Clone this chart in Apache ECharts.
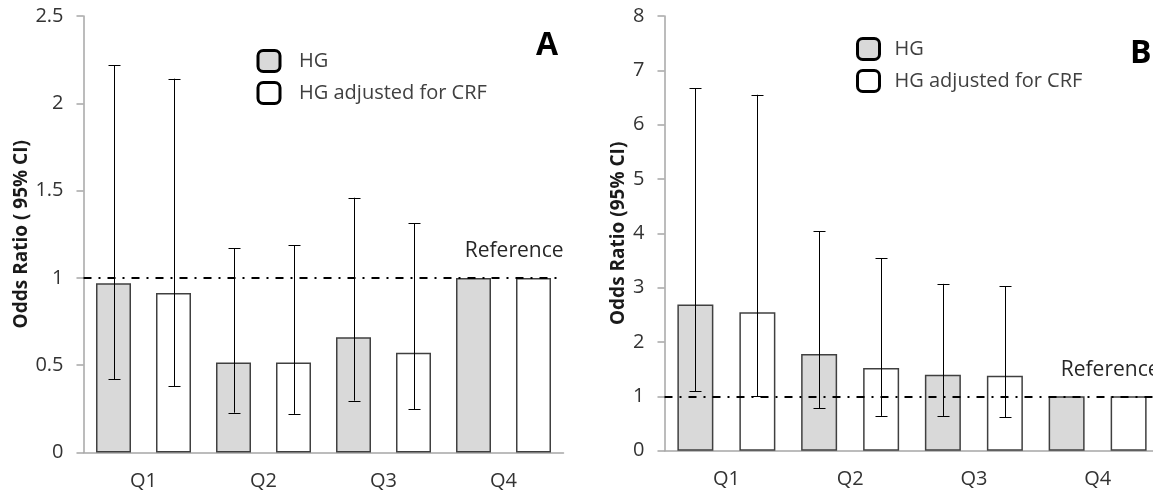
<!DOCTYPE html>
<html><head><meta charset="utf-8">
<script src="https://cdn.jsdelivr.net/npm/echarts@6/dist/echarts.min.js"></script>
<style>html,body{margin:0;padding:0;background:#fff}#c{width:1153px;height:494px}</style>
</head><body><div id="c"></div>
<script>
// ---- data ----
const categories = ['Q1', 'Q2', 'Q3', 'Q4'];
const seriesNames = ['HG', 'HG adjusted for CRF'];
// Panel A
const aHG      = [0.97, 0.515, 0.66, 1.0];
const aHGLow   = [0.42, 0.228, 0.297, null];
const aHGHigh  = [2.218, 1.169, 1.459, null];
const aAdj     = [0.913, 0.515, 0.572, 1.0];
const aAdjLow  = [0.381, 0.221, 0.248, null];
const aAdjHigh = [2.141, 1.186, 1.314, null];
// Panel B
const bHG      = [2.69, 1.78, 1.40, 1.0];
const bHGLow   = [1.09, 0.78, 0.64, null];
const bHGHigh  = [6.67, 4.04, 3.07, null];
const bAdj     = [2.55, 1.52, 1.38, 1.0];
const bAdjLow  = [1.0, 0.64, 0.62, null];
const bAdjHigh = [6.55, 3.54, 3.03, null];
// axis ranges: min, max, interval
const aAxis = [0, 2.5, 0.5];
const bAxis = [0, 8, 1];
const referenceValue = 1;
const panelLabels = ['A', 'B'];
const yTitles = ['Odds Ratio ( 95% CI)', 'Odds Ratio (95% CI)'];
const refText = 'Reference';

// ---- styles ----
const FONT = 'Open Sans';
const GRAY = '#d9d9d9';
const EDGE = '#404040';
const AXIS = '#a6a6a6';
const panels = [
  {grid: {left: 83.5, top: 16, width: 480, height: 436.5, outerBoundsMode: 'none'}, barW: 35, gap: 25, axis: aAxis,
   hg: aHG, hgLo: aHGLow, hgHi: aHGHigh, adj: aAdj, adjLo: aAdjLow, adjHi: aAdjHigh, nameGap: 42},
  {grid: {left: 664.5, top: 16, width: 495, height: 434.7, outerBoundsMode: 'none'}, barW: 36, gap: 26, axis: bAxis,
   hg: bHG, hgLo: bHGLow, hgHi: bHGHigh, adj: bAdj, adjLo: bAdjLow, adjHi: bAdjHigh, nameGap: 36}
];

function errSeries(idx, lows, highs, offset) {
  const data = [];
  categories.forEach((c, i) => { if (lows[i] != null) data.push([i, lows[i], highs[i]]); });
  return {
    type: 'custom', xAxisIndex: idx, yAxisIndex: idx, z: 6, silent: true,
    data: data,
    renderItem: function (params, api) {
      const i = api.value(0);
      const lo = api.coord([i, api.value(1)]);
      const hi = api.coord([i, api.value(2)]);
      const x = Math.round(lo[0] + offset) + 0.5;
      const cap = 6;
      const st = {stroke: '#000', lineWidth: 1};
      return {type: 'group', children: [
        {type: 'line', shape: {x1: x, y1: hi[1], x2: x, y2: lo[1]}, style: st},
        {type: 'line', shape: {x1: x - cap, y1: Math.round(hi[1]) + 0.5, x2: x + cap, y2: Math.round(hi[1]) + 0.5}, style: st},
        {type: 'line', shape: {x1: x - cap, y1: Math.round(lo[1]) + 0.5, x2: x + cap, y2: Math.round(lo[1]) + 0.5}, style: st}
      ]};
    }
  };
}

const grids = [], xAxes = [], yAxes = [], series = [];
panels.forEach((p, k) => {
  grids.push(p.grid);
  xAxes.push({
    type: 'category', gridIndex: k, data: categories,
    axisLine: {lineStyle: {color: AXIS, width: 1.5}},
    axisTick: {show: false},
    axisLabel: {fontFamily: FONT, fontSize: 20, color: '#333', margin: 19}
  });
  yAxes.push({
    type: 'value', gridIndex: k, min: p.axis[0], max: p.axis[1], interval: p.axis[2],
    splitLine: {show: false},
    axisLine: {show: true, lineStyle: {color: AXIS, width: 1.5}},
    axisTick: {show: true, length: 7, lineStyle: {color: AXIS, width: 1.5}},
    axisLabel: {fontFamily: FONT, fontSize: 20, color: '#333', margin: 20},
    name: yTitles[k], nameLocation: 'middle', nameGap: p.nameGap,
    nameTextStyle: {fontFamily: FONT, fontWeight: 'bold', fontSize: 19, color: '#1a1a1a'}
  });
  const gapPct = (p.gap / p.barW * 100) + '%';
  const off = (p.barW + p.gap) / 2;
  series.push({
    name: seriesNames[0], type: 'bar', xAxisIndex: k, yAxisIndex: k, data: p.hg,
    barWidth: p.barW, barGap: gapPct,
    itemStyle: {color: GRAY, borderColor: EDGE, borderWidth: 1.5},
    markLine: {
      symbol: 'none', silent: true, z: 7,
      lineStyle: {color: '#000', width: 2, type: [8, 7, 2, 7]},
      label: {show: true, position: 'insideEndTop', formatter: refText, fontFamily: FONT,
              fontSize: 21, color: '#262626', distance: [0, 16]},
      data: [{yAxis: referenceValue}]
    }
  });
  series.push({
    name: seriesNames[1], type: 'bar', xAxisIndex: k, yAxisIndex: k, data: p.adj,
    barWidth: p.barW, barGap: gapPct,
    itemStyle: {color: '#ffffff', borderColor: EDGE, borderWidth: 1.5}
  });
  series.push(errSeries(k, p.hgLo, p.hgHi, -off));
  series.push(errSeries(k, p.adjLo, p.adjHi, off));
});

const legendCommon = {
  orient: 'vertical', padding: 0, itemWidth: 22, itemHeight: 21, itemGap: 8,
  icon: 'roundRect', data: seriesNames, selectedMode: false,
  itemStyle: {borderColor: '#000', borderWidth: 3},
  textStyle: {fontFamily: FONT, fontSize: 20, color: '#404040', padding: [0, 0, 0, 14]}
};

const chart = echarts.init(document.getElementById('c'), null, {renderer: 'canvas'});
chart.setOption({
  animation: false,
  backgroundColor: '#fff',
  title: [
    {text: panelLabels[0], left: 536, top: 30, padding: 0,
     textStyle: {fontFamily: FONT, fontWeight: 'bold', fontSize: 32, color: '#000'}},
    {text: panelLabels[1], left: 1130, top: 38, padding: 0,
     textStyle: {fontFamily: FONT, fontWeight: 'bold', fontSize: 32, color: '#000'}}
  ],
  legend: [
    Object.assign({left: 256.5, top: 49}, legendCommon),
    Object.assign({left: 856, top: 37}, legendCommon, {textStyle: Object.assign({}, legendCommon.textStyle, {padding: [0, 0, 0, 10]})})
  ],
  grid: grids,
  xAxis: xAxes,
  yAxis: yAxes,
  series: series
});
</script>
</body></html>
